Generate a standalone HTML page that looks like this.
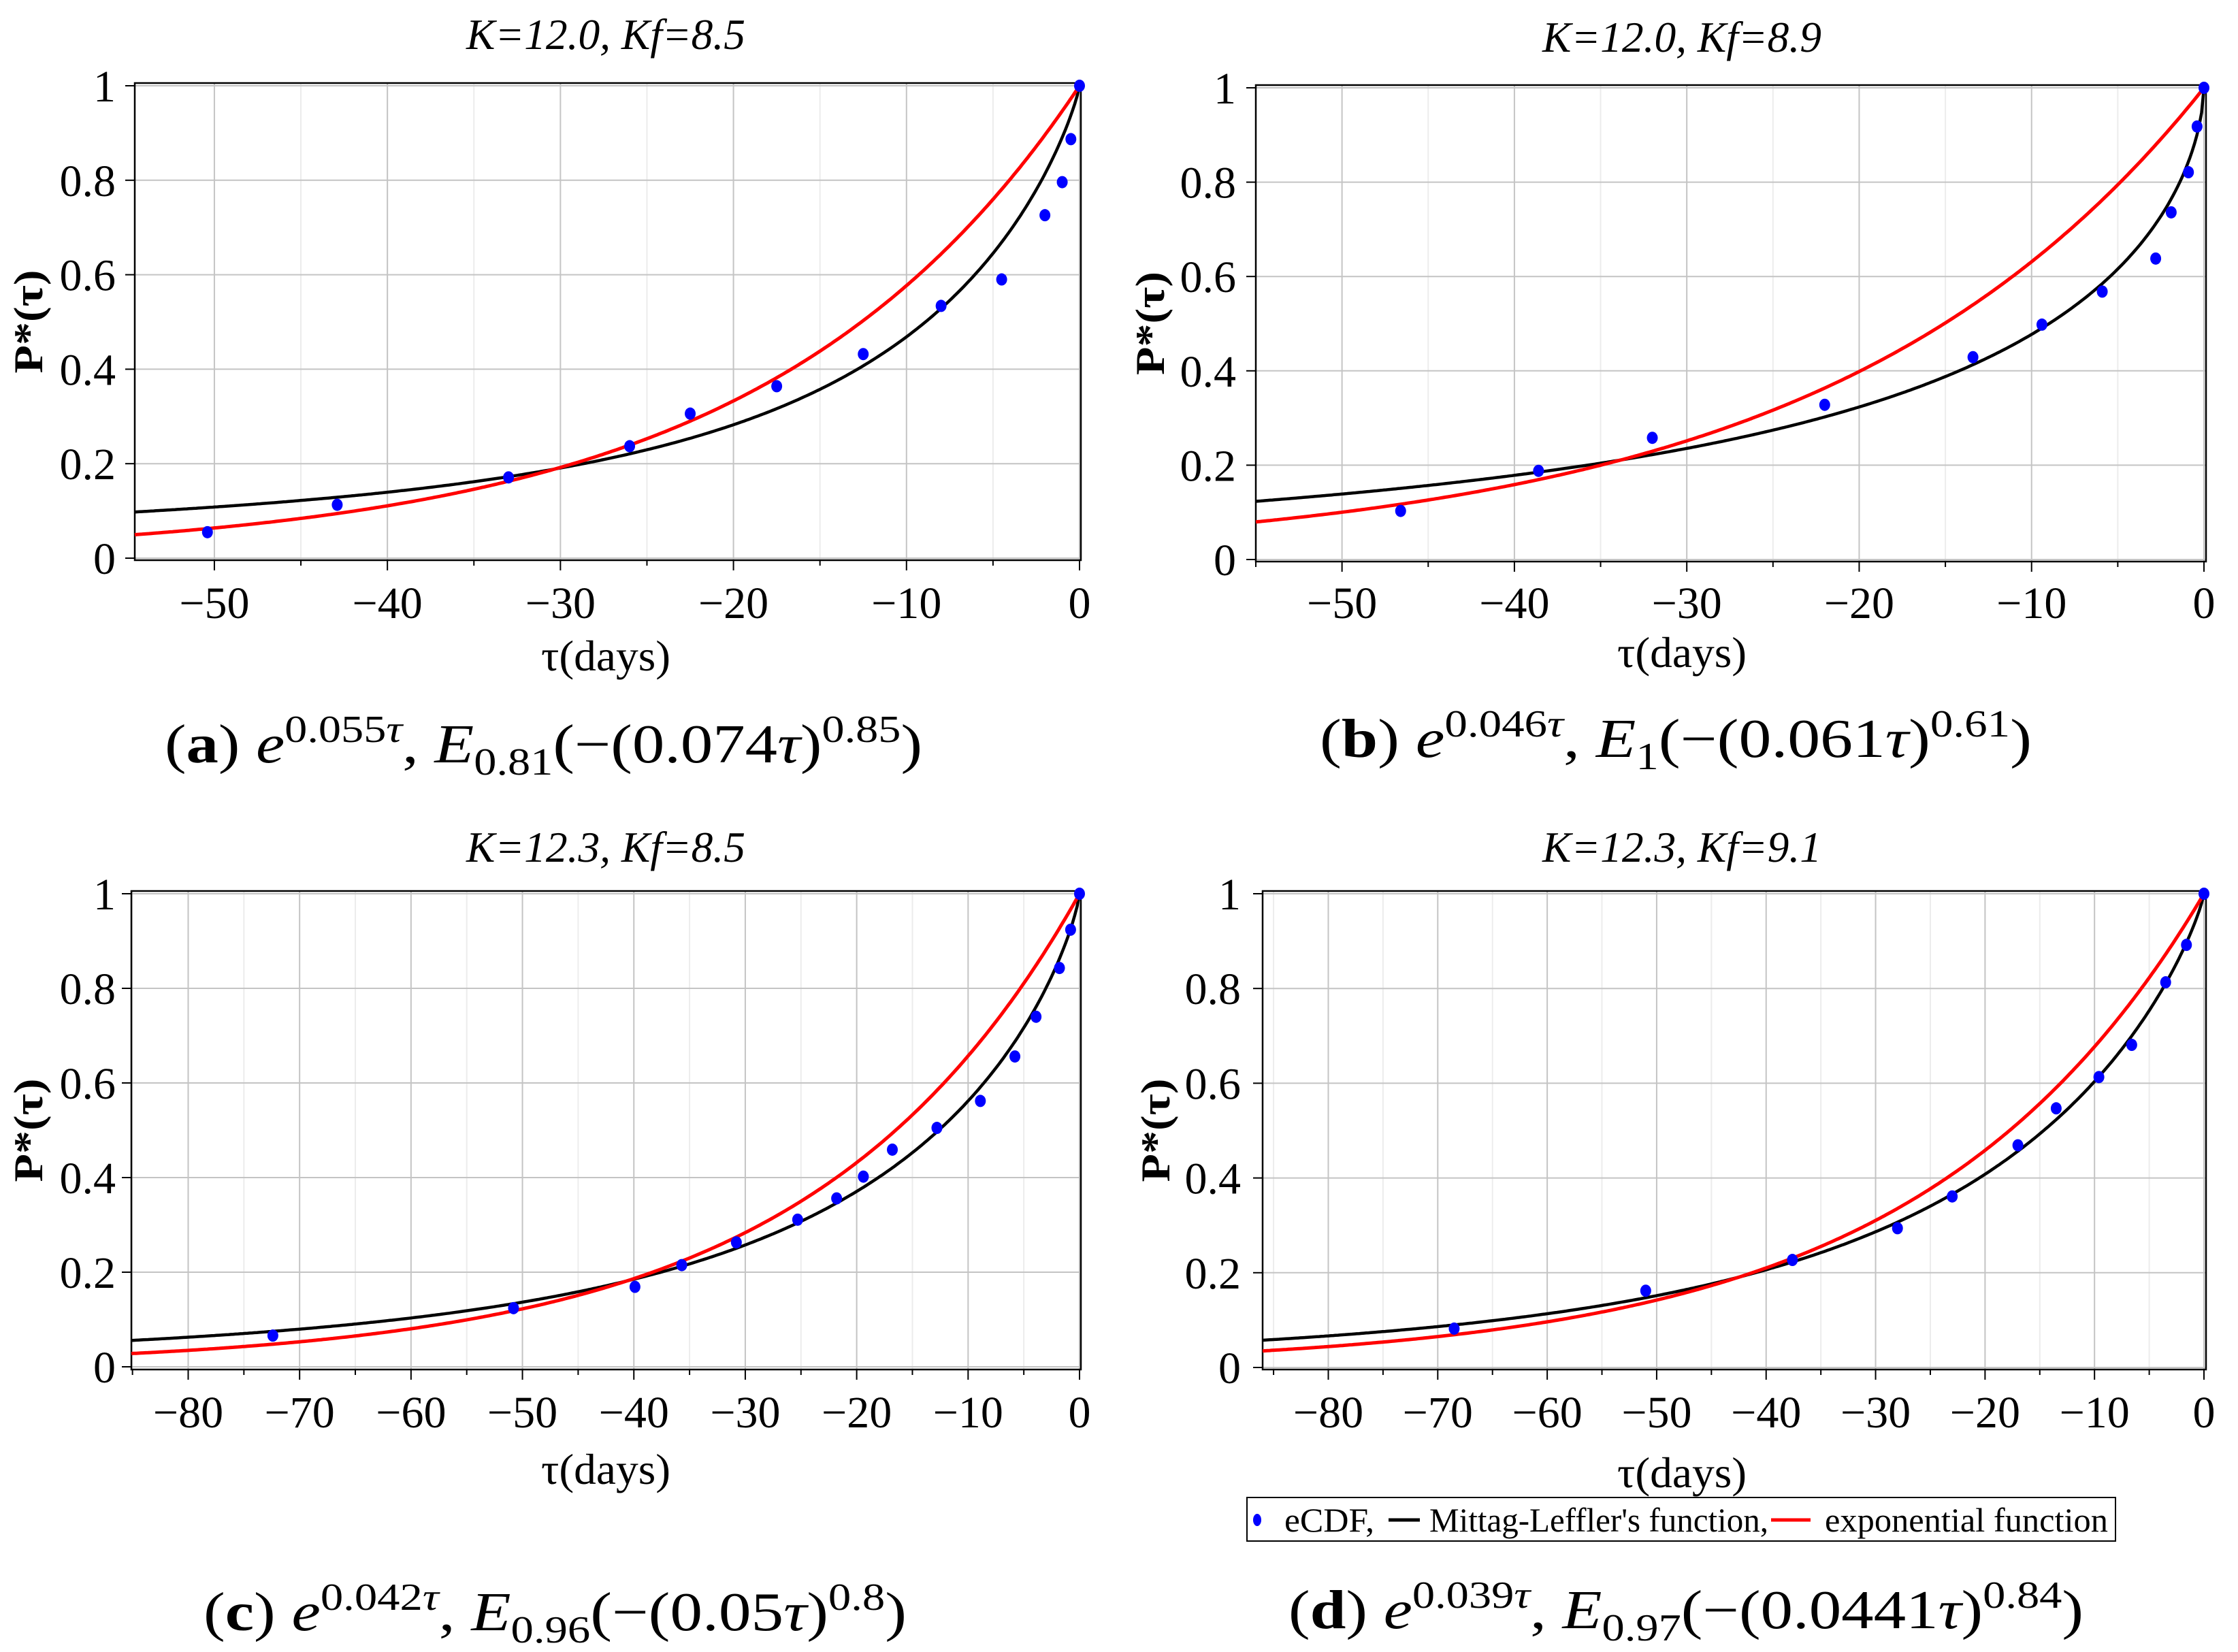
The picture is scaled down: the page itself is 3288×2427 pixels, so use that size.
<!DOCTYPE html>
<html><head><meta charset="utf-8"><style>
html,body{margin:0;padding:0;background:#fff;}
svg{display:block;font-family:"Liberation Serif",serif;}
</style></head><body>
<svg id="fig" width="3288" height="2427" viewBox="0 0 3288 2427" xmlns="http://www.w3.org/2000/svg"></svg>
<script>
// ---- data ----
const aTau = [-50.4,-42.9,-33.0,-26.0,-22.5,-17.5,-12.5,-8.0,-4.5,-2.0,-1.0,-0.5,0];
const aP   = [0.055,0.113,0.171,0.237,0.306,0.364,0.432,0.534,0.590,0.726,0.796,0.887,1.0];
const bTau = [-46.6,-38.6,-32.0,-22.0,-13.4,-9.4,-5.9,-2.8,-1.9,-0.9,-0.4,0];
const bP   = [0.103,0.188,0.258,0.328,0.429,0.498,0.568,0.638,0.736,0.821,0.918,1.0];
const cTau = [-72.4,-50.8,-39.9,-35.7,-30.8,-25.3,-21.8,-19.4,-16.8,-12.8,-8.9,-5.8,-3.9,-1.8,-0.8,0];
const cP   = [0.066,0.124,0.169,0.215,0.263,0.311,0.356,0.402,0.459,0.505,0.562,0.656,0.740,0.843,0.924,1.0];
const dTau = [-68.5,-51.0,-37.6,-28.0,-23.0,-17.0,-13.5,-9.6,-6.6,-3.5,-1.6,0];
const dP   = [0.082,0.162,0.227,0.294,0.361,0.469,0.547,0.613,0.681,0.813,0.892,1.0];
// model parameters: [exp rate, ML alpha, ML scale, ML power]
const aParams = [0.055,0.81,0.074,0.85];
const bParams = [0.046,1.0,0.061,0.61];
const cParams = [0.042,0.96,0.05,0.8];
const dParams = [0.039,0.97,0.0441,0.84];
const yTicks = [0,0.2,0.4,0.6,0.8,1];
const yTickLabels = ["0","0.2","0.4","0.6","0.8","1"];
const xTicksShort = [-50,-40,-30,-20,-10,0];
const xTicksLong = [-80,-70,-60,-50,-40,-30,-20,-10,0];

const NS="http://www.w3.org/2000/svg";
const svg=document.getElementById('fig');
function el(tag,attrs,parent){const e=document.createElementNS(NS,tag);for(const k in attrs)e.setAttribute(k,attrs[k]);(parent||svg).appendChild(e);return e;}
function lnGamma(x){const g=7,c=[0.99999999999980993,676.5203681218851,-1259.1392167224028,771.32342877765313,-176.61502916214059,12.507343278686905,-0.13857109526572012,9.9843695780195716e-6,1.5056327351493116e-7];
 if(x<0.5)return Math.log(Math.PI/Math.abs(Math.sin(Math.PI*x)))-lnGamma(1-x);
 x-=1;let a=c[0];const t=x+g+0.5;for(let i=1;i<9;i++)a+=c[i]/(x+i);
 return 0.5*Math.log(2*Math.PI)+(x+0.5)*Math.log(t)-t+Math.log(a);}
function ML(al,z){ if(z===0)return 1; let s=0; for(let k=0;k<200;k++){const t=Math.exp(k*Math.log(z)-lnGamma(al*k+1)); s+=(k%2?-t:t); if(k>20&&t<1e-16)break;} return s;}

function panel(cfg){
 const g=el('g',{});
 
 
 const X=v=>cfg.x1-(cfg.x1-cfg.x0)*(0-v)/(0-cfg.xmin)*1;
 const sx=v=>cfg.xz+(v)*(cfg.xz-cfg.x0)/(-cfg.xmin);
 const sy=v=>cfg.y0+(cfg.y1-cfg.y0)*v;
 // minor grid
 for(let v=Math.ceil(cfg.xmin/5)*5;v<=0;v+=5){ if(v%10!==0){const l=el('line',{x1:sx(v),x2:sx(v),y1:cfg.top,y2:cfg.bot,stroke:'#ececec','stroke-width':2},g);}}
 for(let i=0;i<cfg.xt.length;i++){const v=cfg.xt[i];const l=el('line',{x1:sx(v),x2:sx(v),y1:cfg.top,y2:cfg.bot,stroke:'#c4c4c4','stroke-width':2},g);}
 for(let i=0;i<yTicks.length;i++){const l=el('line',{x1:cfg.x0,x2:cfg.x1,y1:sy(yTicks[i]),y2:sy(yTicks[i]),stroke:'#c4c4c4','stroke-width':2},g);}
 const box=el('rect',{x:cfg.x0,y:cfg.top,width:cfg.x1-cfg.x0,height:cfg.bot-cfg.top,fill:'none',stroke:'#000','stroke-width':2.5},g);
 
 // ticks
 for(let v=Math.ceil(cfg.xmin/5)*5;v<=0;v+=5){const maj=v%10===0;const t=el('line',{x1:sx(v),x2:sx(v),y1:cfg.bot,y2:cfg.bot+(maj?15:8),stroke:'#000','stroke-width':2},g);}
 for(let i=0;i<cfg.xt.length;i++){const v=cfg.xt[i];const t=el('text',{x:sx(v),y:cfg.xly,'font-size':66,'text-anchor':'middle'},g);t.textContent=(v<0?'\u2212'+(-v):''+v);}
 for(let i=0;i<yTicks.length;i++){const y=sy(yTicks[i]);const t=el('line',{x1:cfg.x0-14,x2:cfg.x0,y1:y,y2:y,stroke:'#000','stroke-width':2},g);
  const lb=el('text',{x:cfg.ylx,y:y+23,'font-size':66,'text-anchor':'end'},g);lb.textContent=yTickLabels[i];}
 // curves
 const p=cfg.params;let dm='',de='';
 for(let i=0;i<=400;i++){const t=cfg.xmin*(1-i/400);const u=-t;
  const m=ML(p[1],Math.pow(p[2]*u,p[3]));const e=Math.exp(-p[0]*u);
  dm+=(i?'L':'M')+sx(t).toFixed(1)+' '+sy(m).toFixed(1);de+=(i?'L':'M')+sx(t).toFixed(1)+' '+sy(e).toFixed(1);}
 const cm=el('path',{d:dm,fill:'none',stroke:'#000','stroke-width':4.5},g);
 const ce=el('path',{d:de,fill:'none',stroke:'#ff0000','stroke-width':5},g);
 for(let i=0;i<cfg.tau.length;i++){const d=el('ellipse',{cx:sx(cfg.tau[i]),cy:sy(cfg.p[i]),rx:8,ry:9,fill:'#0000ff'},g);}
 // titles
 const tt=el('text',{x:cfg.tx,y:cfg.ty,'font-size':64,'font-style':'italic','text-anchor':'middle',textLength:410,lengthAdjust:'spacingAndGlyphs'},g);tt.textContent=cfg.title;
 const xl=el('text',{x:cfg.tx,y:cfg.xlabY,'font-size':64,'text-anchor':'middle',textLength:190,lengthAdjust:'spacingAndGlyphs'},g);xl.textContent='\u03C4(days)';
 const ym=(cfg.top+cfg.bot)/2;
 const yl=el('text',{x:0,y:0,'font-size':60,'font-weight':'bold','text-anchor':'middle',transform:`translate(${cfg.ylabX},${ym}) rotate(-90)`,textLength:152,lengthAdjust:'spacingAndGlyphs'},g);yl.textContent='P*(\u03C4)';
 // caption
 const c=cfg.cap;
 const cap=el('text',{x:c.x0,y:c.y,'font-size':80,textLength:c.w,lengthAdjust:'spacingAndGlyphs'},g);
 
 const parts=[['(',{}],[c.l,{'font-weight':'bold'}],[') ',{}],['e',{'font-style':'italic'}],[c.er,{dy:-30,'font-size':56}],['\u03C4',{'font-style':'italic','font-size':56}],[',  ',{dy:30}],['E',{'font-style':'italic'}],[c.al,{dy:18,'font-size':56}],['(\u2212(',{dy:-18}],[c.sc,{}],['\u03C4',{'font-style':'italic'}],[')',{}],[c.pw,{dy:-30,'font-size':56}],[')',{dy:30}]];
 for(const [txt,a] of parts){const s=el('tspan',a,cap);s.textContent=txt;}
}
const L={x0:198,x1:1588,xz:1586}, R={x0:1845,x1:3241,xz:3238};
panel({name:'panel-a',x0:198,x1:1588,xz:1586,xmin:-54.6,top:122,bot:823,y1:126,y0:820,xt:xTicksShort,xly:908,ylx:170,tau:aTau,p:aP,params:aParams,title:'K=12.0, Kf=8.5',tx:890,ty:72,xlabY:985,ylabX:62,
 cap:{x0:242,y:1120,w:1113,l:'a',er:'0.055',al:'0.81',sc:'0.074',pw:'0.85'}});
panel({name:'panel-b',x0:1845,x1:3241,xz:3238,xmin:-55.0,top:125,bot:825,y1:129,y0:822,xt:xTicksShort,xly:908,ylx:1816,tau:bTau,p:bP,params:bParams,title:'K=12.0, Kf=8.9',tx:2471,ty:76,xlabY:980,ylabX:1710,
 cap:{x0:1939,y:1112,w:1046,l:'b',er:'0.046',al:'1',sc:'0.061',pw:'0.61'}});
panel({name:'panel-c',x0:193,x1:1588,xz:1586,xmin:-85.1,top:1309,bot:2012,y1:1313,y0:2008,xt:xTicksLong,xly:2097,ylx:170,tau:cTau,p:cP,params:cParams,title:'K=12.3, Kf=8.5',tx:890,ty:1266,xlabY:2180,ylabX:62,
 cap:{x0:299,y:2395,w:1033,l:'c',er:'0.042',al:'0.96',sc:'0.05',pw:'0.8'}});
panel({name:'panel-d',x0:1855,x1:3241,xz:3238,xmin:-86.0,top:1309,bot:2012,y1:1313,y0:2009,xt:xTicksLong,xly:2097,ylx:1823,tau:dTau,p:dP,params:dParams,title:'K=12.3, Kf=9.1',tx:2471,ty:1266,xlabY:2185,ylabX:1718,
 cap:{x0:1893,y:2392,w:1168,l:'d',er:'0.039',al:'0.97',sc:'0.0441',pw:'0.84'}});
// legend
const lg=el('g',{});


const lr=el('rect',{x:1832,y:2200,width:1276,height:64,fill:'#fff',stroke:'#000','stroke-width':2},lg);

const ld=el('ellipse',{cx:1847,cy:2233,rx:6,ry:9,fill:'#0000ff'},lg);

const t1=el('text',{x:1887,y:2250,'font-size':50,textLength:132,lengthAdjust:'spacingAndGlyphs'},lg);t1.textContent='eCDF,';

const l1=el('line',{x1:2040,x2:2086,y1:2233,y2:2233,stroke:'#000','stroke-width':5},lg);

const t2=el('text',{x:2100,y:2250,'font-size':50,textLength:498,lengthAdjust:'spacingAndGlyphs'},lg);t2.textContent="Mittag-Leffler's function,";

const l2=el('line',{x1:2602,x2:2660,y1:2233,y2:2233,stroke:'#ff0000','stroke-width':5},lg);

const t3=el('text',{x:2681,y:2250,'font-size':50,textLength:416,lengthAdjust:'spacingAndGlyphs'},lg);t3.textContent='exponential function';

</script>
</body></html>
